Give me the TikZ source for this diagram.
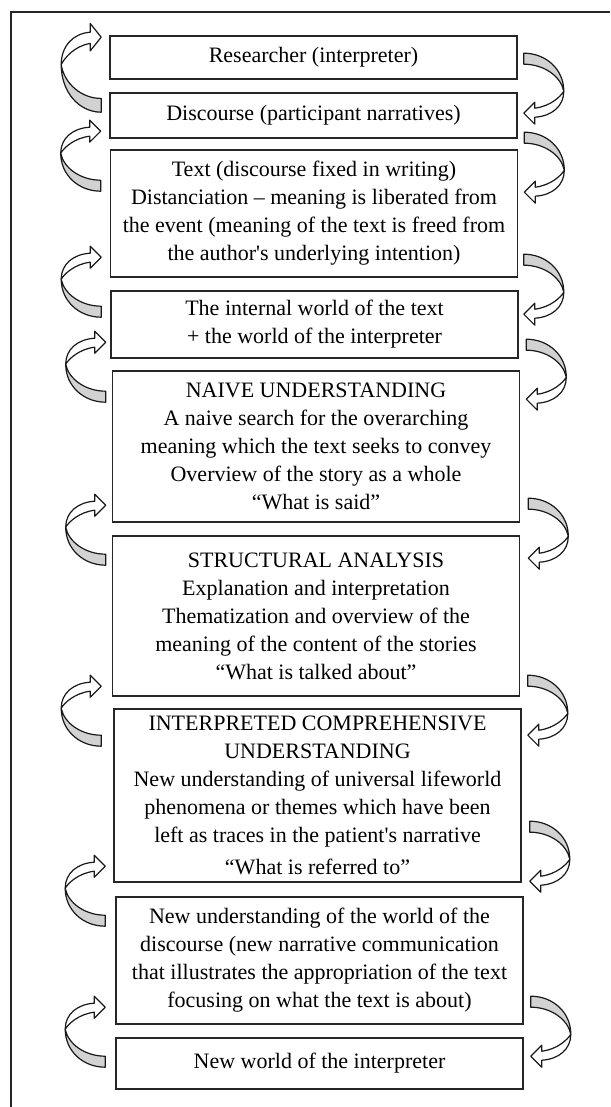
\documentclass[tikz,border=0pt]{standalone}
\usepackage{fontspec}
\newfontfamily\stagefont{Liberation Serif}

\begin{document}
\begin{tikzpicture}[x=0.5pt,y=-0.5pt,
  stage/.style={rectangle,draw=black!85,line width=0.8pt,align=center,
    inner sep=0pt,minimum width=203.5pt,
    font=\stagefont\fontsize{11}{14}\selectfont},
  ribbon/.style={draw=black!90,line width=0.6pt,line join=round},
  leftcurl/.pic={
    % front face with the head
    \draw[ribbon,fill=white] (-11,-17) -- (-11,-11) -- (0,-22) -- (-11,-33) -- (-11,-26)
      .. controls (-28,-25) and (-40,-15) .. (-40,0)
      .. controls (-37,-5) and (-27,-15) .. (-11,-17) -- cycle;
    % back face
    \draw[ribbon,fill=gray!35] (-40,0) .. controls (-40,22) and (-22,38) .. (0,38)
      -- (0,27) .. controls (-20,27) and (-37,15) .. (-40,0) -- cycle;
  }]
    \useasboundingbox (0,0) rectangle (610,1107);
    % Frame
    \draw[black!85,line width=0.75pt] (610,12) -- (11,12) -- (11,1107);
    % Stages
    \node[stage,minimum height=21.5pt] (researcher) at (313.5,57.5) {Researcher (interpreter)};
    \node[stage,minimum height=22.5pt] (discourse) at (313.5,115.5) {Discourse (participant narratives)};
    \node[stage,minimum height=63.5pt] (text) at (314,213.5)
      {Text (discourse fixed in writing)\\ Distanciation – meaning is liberated from\\
       the event (meaning of the text is freed from\\ the author's underlying intention)};
    \node[stage,minimum height=33.5pt] (worlds) at (314.5,324.5)
      {The internal world of the text\\ + the world of the interpreter};
    \node[stage,minimum height=75.5pt] (naive) at (316,446.5)
      {NAIVE UNDERSTANDING\\ A naive search for the overarching\\
       meaning which the text seeks to convey\\ Overview of the story as a whole\\ “What is said”};
    \node[stage,minimum height=80pt] (structural) at (316,616)
      {STRUCTURAL ANALYSIS\\ Explanation and interpretation\\
       Thematization and overview of the\\ meaning of the content of the stories\\ “What is talked about”};
    \node[stage,minimum height=86.5pt] (comprehensive) at (317.5,795.5)
      {INTERPRETED COMPREHENSIVE\\ UNDERSTANDING\\ New understanding of universal lifeworld\\
       phenomena or themes which have been\\ left as traces in the patient's narrative\\[2pt]
       “What is referred to”};
    \node[stage,minimum height=63.5pt] (newunderstanding) at (319.5,960.5)
      {New understanding of the world of the\\ discourse (new narrative communication\\
       that illustrates the appropriation of the text\\ focusing on what the text is about)};
    \node[stage,minimum height=25.5pt] (newworld) at (319.5,1063.5) {New world of the interpreter};
    % Left side, going up
    \pic[yscale=1.25] at ([shift={(-8,-27.5)}]discourse.north west) {leftcurl};
    \pic at ([shift={(-9,4)}]text.north west) {leftcurl};
    \pic at ([shift={(-9,-11)}]worlds.north west) {leftcurl};
    \pic at ([shift={(-6,-6)}]naive.north west) {leftcurl};
    \pic at ([shift={(-6,-8)}]structural.north west) {leftcurl};
    \pic at ([shift={(-12,0)}]comprehensive.north west) {leftcurl};
    \pic at ([shift={(-10,-8)}]newunderstanding.north west) {leftcurl};
    \pic at ([shift={(-10,-8)}]newworld.north west) {leftcurl};
    % Right side, going down
    \pic[rotate=180] at ([shift={(6,-1)}]discourse.north east) {leftcurl};
    \pic[rotate=180] at ([shift={(6,21)}]text.north east) {leftcurl};
    \pic[rotate=180] at ([shift={(5,2)}]worlds.north east) {leftcurl};
    \pic[rotate=180] at ([shift={(6,7)}]naive.north east) {leftcurl};
    \pic[rotate=180] at ([shift={(8,1)}]structural.north east) {leftcurl};
    \pic[rotate=180] at ([shift={(6,5)}]comprehensive.north east) {leftcurl};
    \pic[rotate=180] at ([shift={(6,-37)}]newunderstanding.north east) {leftcurl};
    \pic[rotate=180] at ([shift={(7,-3)}]newworld.north east) {leftcurl};
\end{tikzpicture}
\end{document}
